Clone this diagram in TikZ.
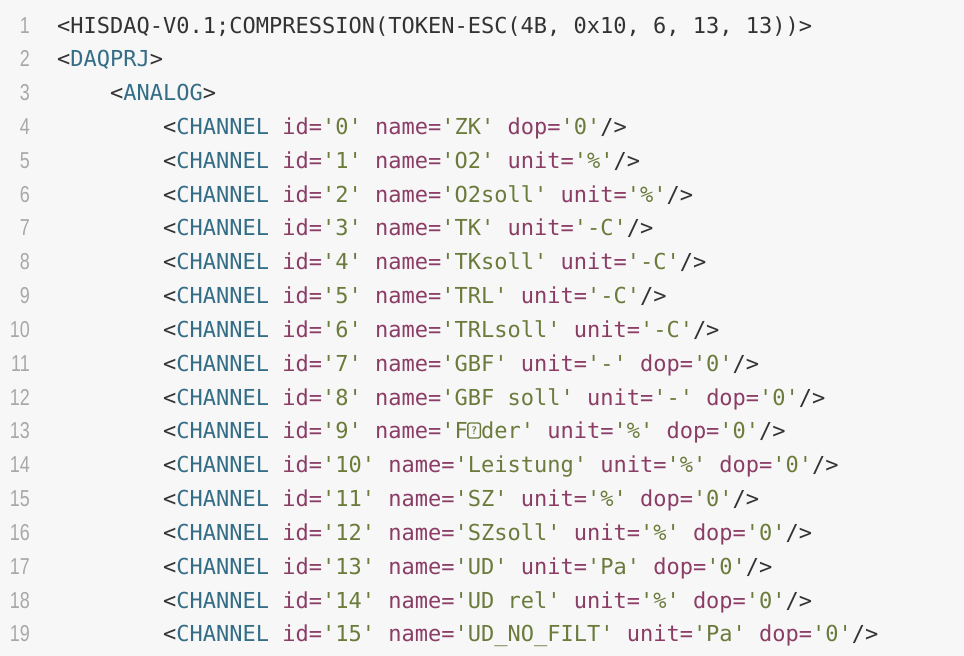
\documentclass[tikz,border=0pt]{standalone}
\usepackage{fontspec}
\setmonofont{DejaVu Sans Mono}
\newfontfamily\lnfont[FakeStretch=0.78]{Liberation Sans}
\definecolor{bgc}{HTML}{F7F7F7}
\definecolor{defc}{HTML}{333333}
\definecolor{tagc}{HTML}{346D86}
\definecolor{attc}{HTML}{8B3D66}
\definecolor{strc}{HTML}{6A7B3B}
\definecolor{lnc}{HTML}{A8A8A8}
\newcommand\q{\symbol{39}}
\newcommand\tg[1]{\textcolor{tagc}{#1}}
\newcommand\av[2]{\textcolor{attc}{#1=}\textcolor{strc}{\q#2\q}}
\newcommand\chn[1]{<\tg{CHANNEL} #1/>}
\tikzset{
  codeline/.style={anchor=base west, inner sep=0pt, font=\ttfamily\fontsize{22}{26}\selectfont, text=defc},
  lnum/.style={anchor=base east, inner sep=0pt, font=\lnfont\fontsize{23}{26}\selectfont, text=lnc},
  qbox/.style={draw=strc, line width=1.3pt, rounded corners=2pt, minimum width=12.5pt, minimum height=15pt, inner sep=0pt, text=strc, font=\sffamily\bfseries\fontsize{11}{11}\selectfont}
}
\begin{document}
\begin{tikzpicture}[x=1pt,y=-1pt]
\fill[bgc] (0,0) rectangle (964,656);
\useasboundingbox (0,0) rectangle (964,656);
\foreach \i in {1,...,19} \node[lnum] (n\i) at (30,{33+(\i-1)*33.83}) {\i};
\node[codeline] (l1) at (57,33) {<HISDAQ-V0.1;COMPRESSION(TOKEN-ESC(4B, 0x10, 6, 13, 13))>};
\node[codeline] (l2) at (57,66.83) {<\tg{DAQPRJ}>};
\node[codeline] (l3) at (110,100.66) {<\tg{ANALOG}>};
\node[codeline] (l4) at (163,134.49) {\chn{\av{id}{0} \av{name}{ZK} \av{dop}{0}}};
\node[codeline] (l5) at (163,168.32) {\chn{\av{id}{1} \av{name}{O2} \av{unit}{\%}}};
\node[codeline] (l6) at (163,202.15) {\chn{\av{id}{2} \av{name}{O2soll} \av{unit}{\%}}};
\node[codeline] (l7) at (163,235.98) {\chn{\av{id}{3} \av{name}{TK} \av{unit}{-C}}};
\node[codeline] (l8) at (163,269.81) {\chn{\av{id}{4} \av{name}{TKsoll} \av{unit}{-C}}};
\node[codeline] (l9) at (163,303.64) {\chn{\av{id}{5} \av{name}{TRL} \av{unit}{-C}}};
\node[codeline] (l10) at (163,337.47) {\chn{\av{id}{6} \av{name}{TRLsoll} \av{unit}{-C}}};
\node[codeline] (l11) at (163,371.30) {\chn{\av{id}{7} \av{name}{GBF} \av{unit}{-} \av{dop}{0}}};
\node[codeline] (l12) at (163,405.13) {\chn{\av{id}{8} \av{name}{GBF soll} \av{unit}{-} \av{dop}{0}}};
\node[codeline] (l13) at (163,438.96) {\chn{\av{id}{9} \av{name}{F\makebox[0.602em]{}der} \av{unit}{\%} \av{dop}{0}}};
\node[qbox] (q13) at (474.1,430.5) {?};
\node[codeline] (l14) at (163,472.79) {\chn{\av{id}{10} \av{name}{Leistung} \av{unit}{\%} \av{dop}{0}}};
\node[codeline] (l15) at (163,506.62) {\chn{\av{id}{11} \av{name}{SZ} \av{unit}{\%} \av{dop}{0}}};
\node[codeline] (l16) at (163,540.45) {\chn{\av{id}{12} \av{name}{SZsoll} \av{unit}{\%} \av{dop}{0}}};
\node[codeline] (l17) at (163,574.28) {\chn{\av{id}{13} \av{name}{UD} \av{unit}{Pa} \av{dop}{0}}};
\node[codeline] (l18) at (163,608.11) {\chn{\av{id}{14} \av{name}{UD rel} \av{unit}{\%} \av{dop}{0}}};
\node[codeline] (l19) at (163,641.94) {\chn{\av{id}{15} \av{name}{UD\_NO\_FILT} \av{unit}{Pa} \av{dop}{0}}};
\end{tikzpicture}
\end{document}
